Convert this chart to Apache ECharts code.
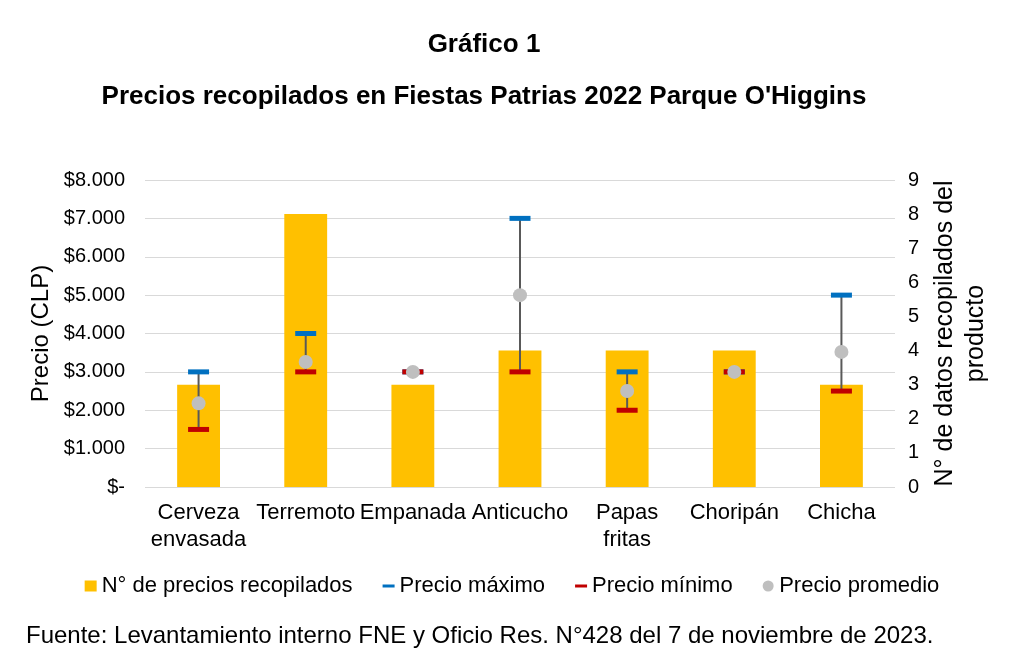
<!DOCTYPE html>
<html><head><meta charset="utf-8">
<script src="https://cdn.jsdelivr.net/npm/echarts@6/dist/echarts.min.js"></script>
<style>html,body{margin:0;padding:0;background:#fff}#c{width:1024px;height:663px}</style>
</head><body><div id="c"></div>
<script>
var categories = ['Cerveza\nenvasada','Terremoto','Empanada','Anticucho','Papas\nfritas','Choripán','Chicha'];
var countValues = [3, 8, 3, 4, 4, 4, 3];
var maxPrice = [3000, 4000, 3000, 7000, 3000, 3000, 5000];
var minPrice = [1500, 3000, 3000, 3000, 2000, 3000, 2500];
var avgPrice = [2180, 3260, 3000, 5000, 2500, 3000, 3520];
var priceTicks = [0, 1000, 2000, 3000, 4000, 5000, 6000, 7000, 8000];

var FONT = '"Liberation Sans", Arial, sans-serif';
var chart = echarts.init(document.getElementById('c'));
function fmtPrice(v){
  if (v === 0) return '$-';
  return '$' + String(v).replace(/\B(?=(\d{3})+(?!\d))/g, '.');
}
var rangeData = categories.map(function(c, i){ return [i, minPrice[i], maxPrice[i]]; });
chart.setOption({
  animation: false,
  textStyle: {fontFamily: FONT},
  title: [
    {text: 'Gráfico 1', left: 479, textAlign: 'center', top: 27,
     textStyle: {fontFamily: FONT, fontSize: 26, fontWeight: 'bold', color: '#000'}},
    {text: "Precios recopilados en Fiestas Patrias 2022 Parque O'Higgins", left: 479, textAlign: 'center', top: 79,
     textStyle: {fontFamily: FONT, fontSize: 26, fontWeight: 'bold', color: '#000'}},
    {text: 'Fuente: Levantamiento interno FNE y Oficio Res. N°428 del 7 de noviembre de 2023.', left: 21, top: 619,
     textStyle: {fontFamily: FONT, fontSize: 24, fontWeight: 'normal', color: '#000'}}
  ],
  grid: {left: 145, right: 129, top: 180, bottom: 176, containLabel: false},
  legend: {
    top: 570, left: 'center', itemGap: 30, itemWidth: 12, itemHeight: 11,
    textStyle: {fontFamily: FONT, fontSize: 22, color: '#000'},
    data: [
      {name: 'N° de precios recopilados', icon: 'rect', itemStyle: {color: '#FFC000'}},
      {name: 'Precio máximo', icon: 'path://M0,0h12v3h-12z', itemStyle: {color: '#0070C0'}},
      {name: 'Precio mínimo', icon: 'path://M0,0h12v3h-12z', itemStyle: {color: '#C00000'}},
      {name: 'Precio promedio', icon: 'circle', itemStyle: {color: '#BFBFBF'}}
    ]
  },
  xAxis: {
    type: 'category', data: categories,
    axisLine: {show: false}, axisTick: {show: false},
    axisLabel: {interval: 0, margin: 12, fontSize: 22, color: '#000', lineHeight: 27, fontFamily: FONT}
  },
  yAxis: [
    {type: 'value', min: 0, max: 8000, interval: 1000,
     name: 'Precio (CLP)', nameLocation: 'middle', nameRotate: 90, nameGap: 92,
     nameTextStyle: {fontFamily: FONT, fontSize: 24, color: '#000'},
     axisLine: {show: false}, axisTick: {show: false},
     axisLabel: {formatter: fmtPrice, fontSize: 20, color: '#000', margin: 20, fontFamily: FONT},
     splitLine: {lineStyle: {color: '#D9D9D9', width: 1}}},
    {type: 'value', min: 0, max: 9, interval: 1, position: 'right',
     name: 'N° de datos recopilados del\nproducto', nameLocation: 'middle', nameRotate: 90, nameGap: 30,
     nameTextStyle: {fontFamily: FONT, fontSize: 25, color: '#000', lineHeight: 31, align: 'center'},
     axisLine: {show: false}, axisTick: {show: false},
     axisLabel: {fontSize: 20, color: '#000', margin: 13, fontFamily: FONT},
     splitLine: {show: false}}
  ],
  series: [
    {name: 'N° de precios recopilados', type: 'bar', yAxisIndex: 1, data: countValues,
     barWidth: '40%', itemStyle: {color: '#FFC000'}, z: 1},
    {name: 'rango', type: 'custom', yAxisIndex: 0, data: rangeData, encode: {x: 0, y: [1, 2]}, z: 2,
     renderItem: function(params, api){
       var p1 = api.coord([api.value(0), api.value(1)]);
       var p2 = api.coord([api.value(0), api.value(2)]);
       return {type: 'line', shape: {x1: p1[0], y1: p1[1], x2: p2[0], y2: p2[1]},
               style: {stroke: '#595959', lineWidth: 2}};
     }},
    {name: 'Precio máximo', type: 'scatter', yAxisIndex: 0, data: maxPrice, symbol: 'rect',
     symbolSize: [21, 5], itemStyle: {color: '#0070C0', opacity: 1}, z: 3},
    {name: 'Precio mínimo', type: 'scatter', yAxisIndex: 0, data: minPrice, symbol: 'rect',
     symbolSize: [21, 5], itemStyle: {color: '#C00000', opacity: 1}, z: 4},
    {name: 'Precio promedio', type: 'scatter', yAxisIndex: 0, data: avgPrice, symbol: 'circle',
     symbolSize: 14, itemStyle: {color: '#BFBFBF', opacity: 1}, z: 5}
  ]
});
</script></body></html>
